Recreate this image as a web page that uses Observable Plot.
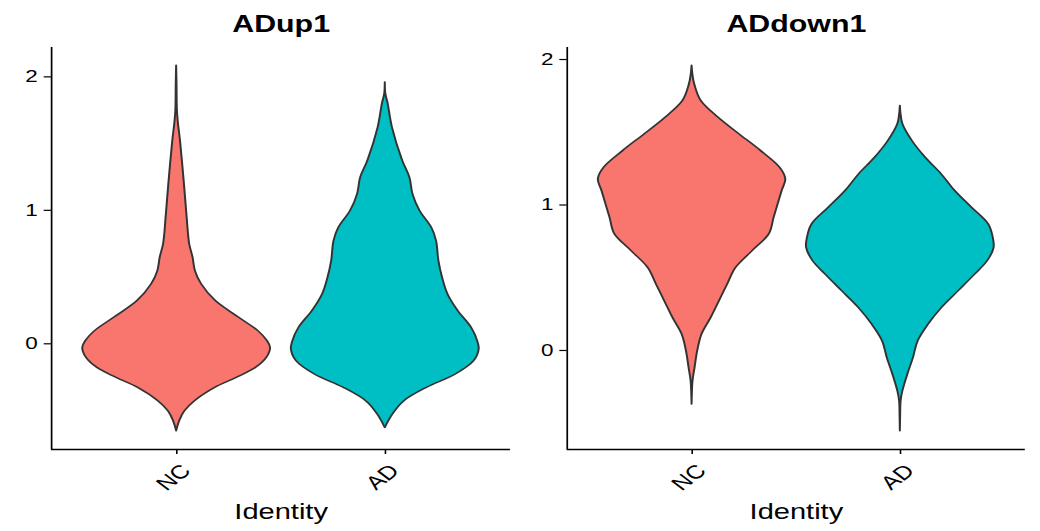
<!DOCTYPE html>
<html><head><meta charset="utf-8">
<script src="https://cdn.jsdelivr.net/npm/d3@7"></script>
<script src="https://cdn.jsdelivr.net/npm/@observablehq/plot@0.6"></script>
<style>
html,body{margin:0;padding:0;background:#fff;overflow:hidden;}
#wrap{width:788px;height:531px;display:flex;transform:scaleX(1.3198);transform-origin:0 0;}
#wrap svg{display:block;}
</style></head><body><div id="wrap"></div>
<script>
const categories = ["NC", "AD"];
const panelTitles = ["ADup1", "ADdown1"];
const yTicks = [0, 1, 2];
const fills = ["#F8766D", "#00BFC4"];
const xAxisTitle = "Identity";

// violin outlines: [score, relative half-width (1 = widest)]
const adup1NC = [[2.083,0],[1.95,0.004],[1.75,0.008],[1.658,0.018],[1.52,0.041],[1.196,0.083],[0.945,0.112],[0.746,0.139],[0.645,0.175],[0.545,0.2],[0.446,0.266],[0.32,0.417],[0.195,0.666],[0.095,0.87],[0.02,0.968],[-0.03,1.0],[-0.105,0.96],[-0.18,0.844],[-0.255,0.64],[-0.33,0.41],[-0.43,0.195],[-0.505,0.089],[-0.58,0.032],[-0.655,0]];
const adup1AD = [[1.958,0],[1.87,0.006],[1.80,0.03],[1.62,0.076],[1.37,0.186],[1.245,0.262],[1.12,0.295],[0.995,0.37],[0.87,0.495],[0.77,0.546],[0.62,0.571],[0.495,0.61],[0.37,0.668],[0.245,0.777],[0.12,0.919],[0.02,0.984],[-0.042,1.0],[-0.13,0.946],[-0.23,0.751],[-0.33,0.442],[-0.43,0.203],[-0.53,0.08],[-0.63,0]];
const addown1NC = [[1.957,0],[1.90,0.008],[1.83,0.028],[1.716,0.097],[1.6,0.283],[1.487,0.504],[1.372,0.734],[1.257,0.938],[1.177,1.0],[1.096,0.961],[0.913,0.876],[0.798,0.823],[0.683,0.646],[0.568,0.469],[0.454,0.38],[0.339,0.292],[0.224,0.204],[0.11,0.106],[-0.005,0.06],[-0.12,0.032],[-0.211,0.01],[-0.3,0.003],[-0.372,0]];
const addown1AD = [[1.681,0],[1.62,0.008],[1.555,0.027],[1.44,0.128],[1.325,0.27],[1.211,0.44],[1.096,0.585],[0.981,0.764],[0.867,0.942],[0.775,0.991],[0.706,1.0],[0.615,0.933],[0.523,0.8],[0.408,0.622],[0.293,0.444],[0.179,0.302],[0.064,0.19],[-0.051,0.14],[-0.165,0.08],[-0.28,0.027],[-0.349,0.008],[-0.45,0.003],[-0.555,0]];

const FONT = '"Liberation Sans", Arial, Helvetica, sans-serif';

function panel(title, nc, ad, m) {
  const all = nc.concat(ad).map(d => d[0]);
  const lo = d3.min(all), hi = d3.max(all), r = hi - lo;
  const yDomain = [lo - 0.05 * r, hi + 0.05 * r];
  const rows = [nc, ad].flatMap((pts, i) => pts.map(([y, w]) => ({cat: categories[i], pos: i + 1, y, w})));
  return Plot.plot({
    width: 394, height: 531,
    marginTop: 47, marginBottom: 82, marginLeft: m.left, marginRight: m.right,
    x: {domain: [0.4, 2.6]},
    y: {domain: yDomain},
    color: {domain: categories, range: fills},
    style: {fontFamily: FONT, color: "#000", background: "#fff", overflow: "visible"},
    marks: [
      Plot.areaX(rows, {y: "y", x1: d => d.pos - d.w * 0.45, x2: d => d.pos + d.w * 0.45, z: "cat", fill: "cat", stroke: "#333333", strokeWidth: 1.5, curve: "catmull-rom"}),
      Plot.ruleX([0.4], {stroke: "#000", strokeWidth: 1.3}),
      Plot.ruleY([yDomain[0]], {stroke: "#000", strokeWidth: 1.3}),
      Plot.axisY({ticks: yTicks, tickFormat: d => String(d), tickSize: 5.5, tickPadding: 5, fontSize: 17, label: null, stroke: "#000", strokeWidth: 1.2}),
      Plot.axisX({ticks: [1, 2], tickSize: 5, tickFormat: () => "", label: null, stroke: "#000", strokeWidth: 1.2}),
      Plot.text(categories, {x: (d, i) => i + 1, text: d => d, frameAnchor: "bottom", rotate: -45, textAnchor: "end", lineAnchor: "top", dx: 2, dy: 13, fontSize: 19, fill: "#000"}),
      Plot.text([title], {text: d => d, frameAnchor: "top", dy: -16, lineAnchor: "bottom", fontSize: 23, fontWeight: "bold", fill: "#000"}),
      Plot.text([xAxisTitle], {text: d => d, frameAnchor: "bottom", dy: 69, lineAnchor: "bottom", fontSize: 22, fill: "#000"})
    ]
  });
}

const wrap = document.getElementById("wrap");
wrap.appendChild(panel(panelTitles[0], adup1NC, adup1AD, {left: 38.6, right: 7.6}));
wrap.appendChild(panel(panelTitles[1], addown1NC, addown1AD, {left: 35.3, right: 11.5}));
</script>
</body></html>
